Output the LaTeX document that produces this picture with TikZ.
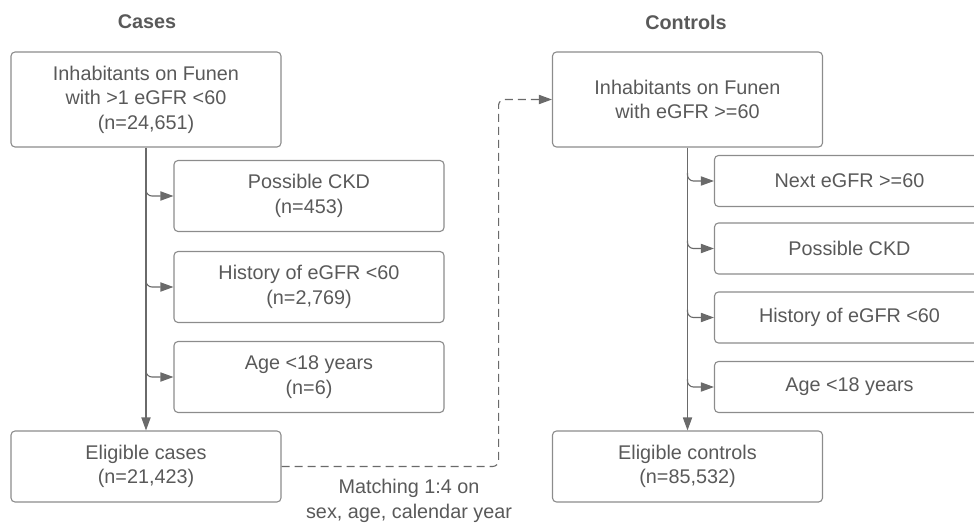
\documentclass[tikz,border=0pt]{standalone}
\usepackage{fontspec}
\setmainfont{Liberation Sans}
\usetikzlibrary{arrows.meta,calc}
\definecolor{textgray}{HTML}{595959}
\definecolor{linegray}{HTML}{6A6A6A}
\definecolor{boxgray}{HTML}{8C8C8C}
\begin{document}
\begin{tikzpicture}[
    x=0.5pt, y=-0.5pt,
    font=\fontsize{9.9}{12.3}\selectfont,
    text=textgray,
    nodes={align=center, inner sep=0pt},
    title/.style={font=\fontsize{9.9}{12.3}\selectfont\bfseries},
    bigbox/.style={draw=boxgray, line width=0.55pt, rounded corners=2pt,
      minimum width=135pt, minimum height=47.5pt},
    sidebox/.style={bigbox, minimum height=35.5pt},
    ctrlbox/.style={bigbox, minimum height=25.5pt},
    link/.style={draw=linegray, line width=0.55pt},
    >={Triangle[length=6.5pt,width=4.6pt]}
  ]
  \clip (0,0) rectangle (974,524);

  % titles
  \node (Cases) at (147,22) [title] {Cases};
  \node (Controls) at (686,22) [title] {Controls};

  % cases
  \node (CaseBase) at (146,99.5) [bigbox] {Inhabitants on Funen\\with >1 eGFR <60\\(n=24,651)};
  \node (CaseCKD) at (309,196) [sidebox] {Possible CKD\\(n=453)};
  \node (CaseHist) at (309,287) [sidebox] {History of eGFR <60\\(n=2,769)};
  \node (CaseAge) at (309,377) [sidebox] {Age <18 years\\(n=6)};
  \node (CaseFinal) at (146,466.5) [sidebox] {Eligible cases\\(n=21,423)};

  % controls
  \node (CtrlBase) at (687.5,99.5) [bigbox] {Inhabitants on Funen\\with eGFR >=60};
  \node (CtrlNext) at (849.5,181) [ctrlbox] {Next eGFR >=60};
  \node (CtrlCKD) at (849.5,248.5) [ctrlbox] {Possible CKD};
  \node (CtrlHist) at (849.5,317.5) [ctrlbox] {History of eGFR <60};
  \node (CtrlAge) at (849.5,387) [ctrlbox] {Age <18 years};
  \node (CtrlFinal) at (687.5,466.5) [sidebox] {Eligible controls\\(n=85,532)};

  \node (Matching) at (409,501) {Matching 1:4 on\\sex, age, calendar year};

  \draw[->, link] (CaseBase) -- (CaseFinal);
  \draw[->, link] (CtrlBase) -- (CtrlFinal);
  \foreach \n in {CaseCKD,CaseHist,CaseAge}
    \draw[->, link, rounded corners=3pt] ($(CaseBase.south |- \n.west)+(0,-8)$) |- (\n.west);
  \foreach \n in {CtrlNext,CtrlCKD,CtrlHist,CtrlAge}
    \draw[->, link, rounded corners=3pt] ($(CtrlBase.south |- \n.west)+(0,-8)$) |- (\n.west);

  \draw[->, link, dash pattern=on 4pt off 2.5pt, rounded corners=3pt]
    (CaseFinal.east) -- ++(217,0) |- (CtrlBase.west);
\end{tikzpicture}
\end{document}
